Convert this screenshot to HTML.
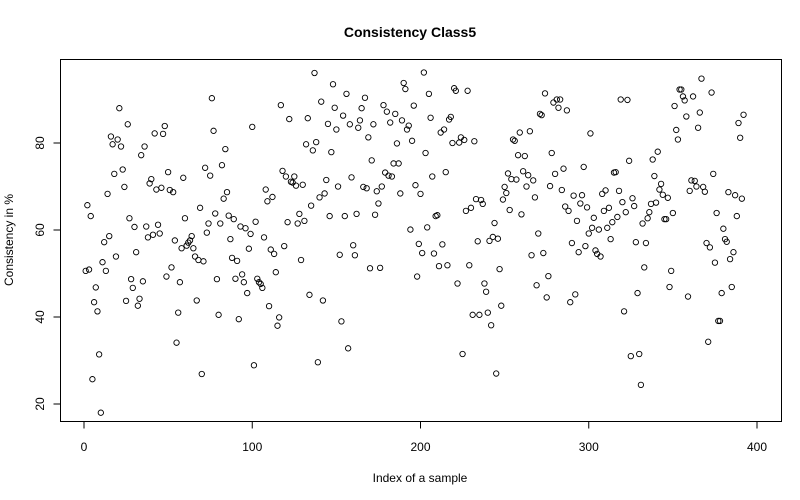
<!DOCTYPE html>
<html><head><meta charset="utf-8"><style>
html,body{margin:0;padding:0;background:#fff;}
svg{display:block;font-family:"Liberation Sans",Arial,sans-serif;}
</style></head><body>
<svg id="chart" width="800" height="500" viewBox="0 0 800 500" xmlns="http://www.w3.org/2000/svg">
<text x="410" y="37" text-anchor="middle" font-size="14" font-weight="bold">Consistency Class5</text>
<rect x="60.5" y="59.5" width="721" height="362" fill="none" stroke="#000" stroke-width="1"/>
<text x="420" y="482" text-anchor="middle" font-size="12">Index of a sample</text>
<text transform="translate(13,240) rotate(-90)" text-anchor="middle" font-size="12">Consistency in %</text>
<g id="xaxis"></g>
<g id="yaxis"></g>
<g id="points"></g>
</svg>
<script>
const xTicks = [0, 100, 200, 300, 400];
const yTicks = [20, 40, 60, 80];
const values = [
50.6,65.7,50.9,63.2,25.7,43.4,46.8,41.3,31.4,18.0,52.6,57.2,50.6,68.3,58.6,81.5,79.7,72.9,53.9,80.8,88.0,79.2,73.9,69.9,43.7,84.3,62.7,48.7,46.7,60.7,54.9,42.6,44.2,77.2,48.2,79.2,60.8,58.3,70.7,71.7,58.9,82.2,69.3,61.2,59.2,69.7,82.1,83.9,49.3,73.3,69.2,51.4,68.7,57.6,34.1,41.0,48.0,55.8,72.0,62.7,56.4,57.1,57.6,58.6,55.8,53.9,43.8,
53.1,65.1,26.9,52.8,74.3,59.4,61.5,72.5,90.3,82.8,63.8,48.7,40.5,61.5,74.9,67.2,78.6,68.7,63.3,57.9,53.6,62.5,48.8,52.9,39.5,60.8,49.8,48.0,60.4,45.5,55.7,59.1,83.7,28.9,61.9,48.8,48.0,47.6,46.7,58.3,69.3,66.6,42.5,55.5,67.6,54.5,50.3,38.0,39.9,88.7,73.6,56.3,72.3,61.8,85.5,71.1,70.9,72.3,70.2,61.5,63.7,53.1,70.4,62.1,79.7,85.7,45.1,65.6,
78.3,96.1,80.2,29.6,67.5,89.5,43.8,68.4,71.5,84.4,63.2,77.9,93.5,88.1,83.1,70.0,54.3,39.0,86.3,63.2,91.3,32.8,84.3,72.1,56.5,54.2,63.7,83.5,85.2,88.0,69.9,90.4,69.6,81.3,51.2,76.0,84.3,63.5,68.9,66.1,51.3,70.0,88.7,73.2,87.2,72.5,84.7,72.3,75.3,86.7,79.9,75.3,68.4,85.2,93.8,92.4,83.1,84.0,60.1,80.5,88.6,70.3,49.3,56.8,68.3,54.7,96.2,77.7,
60.6,91.3,85.8,72.3,54.6,63.2,63.4,51.7,82.4,56.7,83.1,73.3,51.9,85.4,86.0,80.0,92.6,92.0,47.7,80.1,81.3,31.5,80.7,64.4,92.0,51.9,65.1,40.5,80.4,67.1,57.4,40.5,66.9,66.0,47.7,45.8,41.0,57.5,38.1,58.4,61.6,27.0,58.0,51.0,42.6,67.0,69.9,68.5,73.0,64.6,71.7,80.8,80.5,71.6,77.2,82.4,63.6,73.5,77.0,70.0,72.6,82.7,54.2,71.4,67.5,47.3,59.2,86.7,
86.4,54.7,91.4,44.5,49.4,70.1,77.7,89.3,72.9,90.0,88.1,90.0,69.2,74.1,65.4,87.5,64.4,43.4,57.0,67.9,45.2,62.1,54.9,66.1,68.0,74.5,56.3,65.2,59.2,82.2,60.5,62.8,55.3,54.5,60.1,53.9,68.3,64.4,69.1,60.5,65.1,57.9,61.8,73.2,73.3,63.0,69.0,90.0,66.4,41.3,64.1,89.9,75.9,31.0,67.3,65.5,57.2,45.5,31.5,24.4,61.5,51.4,57.0,62.7,64.1,66.0,76.2,72.4,
66.3,78.0,69.3,70.6,68.1,62.5,62.5,67.4,46.9,50.6,63.9,88.5,83.0,80.8,92.3,92.3,90.7,89.8,86.1,44.7,69.0,71.4,90.7,71.3,70.0,83.5,87.0,94.8,69.9,68.8,57.0,34.3,56.0,91.6,72.9,52.5,63.9,39.1,39.1,45.5,60.3,57.9,57.3,68.7,53.3,46.9,54.9,68.0,63.2,84.6,81.2,67.2,86.5
];
const NS = "http://www.w3.org/2000/svg";
function xScale(i){ return 84 + i * 1.6825; }
function yScale(v){ return 404 - (v - 20) * 4.35; }
const xa = document.getElementById('xaxis');
const ya = document.getElementById('yaxis');
const pts = document.getElementById('points');
function mk(tag, attrs, parent){ const e = document.createElementNS(NS, tag); for (const k in attrs) e.setAttribute(k, attrs[k]); parent.appendChild(e); return e; }
mk('line', {x1: xScale(xTicks[0]), x2: xScale(xTicks[xTicks.length-1]), y1: 421.5, y2: 421.5, stroke: '#000'}, xa);
xTicks.forEach(t => {
  const x = xScale(t);
  const l = mk('line', {x1: x, x2: x, y1: 421.5, y2: 428.5, stroke: '#000'}, xa);
  
  
  const tx = mk('text', {x: x, y: 451, 'text-anchor': 'middle', 'font-size': 12}, xa);
  tx.textContent = t;
  
  
});
mk('line', {x1: 60.5, x2: 60.5, y1: yScale(yTicks[0]), y2: yScale(yTicks[yTicks.length-1]), stroke: '#000'}, ya);
yTicks.forEach(t => {
  const y = yScale(t);
  const l = mk('line', {x1: 53.5, x2: 60.5, y1: y, y2: y, stroke: '#000'}, ya);
  
  
  const tx = mk('text', {x: 0, y: 0, 'text-anchor': 'middle', 'font-size': 12, transform: 'translate(44,' + y + ') rotate(-90)'}, ya);
  tx.textContent = t;
  
  
});
values.forEach((v, i) => {
  const c = mk('circle', {cx: xScale(i + 1), cy: yScale(v), r: 2.7, fill: 'none', stroke: '#000', 'stroke-width': 0.9}, pts);
  
  
});
</script>
</body></html>
